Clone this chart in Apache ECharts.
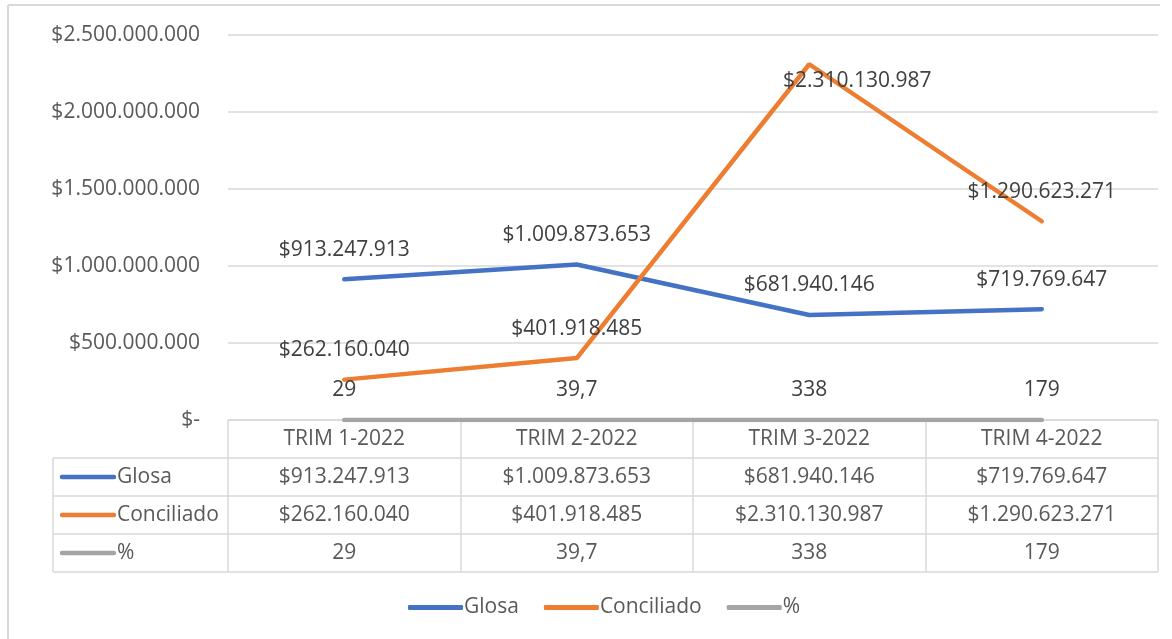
<!DOCTYPE html>
<html>
<head>
<meta charset="utf-8">
<script src="https://cdn.jsdelivr.net/npm/echarts@6/dist/echarts.min.js"></script>
<style>
  html, body { margin: 0; padding: 0; background: #fff; }
  #chart { width: 1172px; height: 639px; }
</style>
</head>
<body>
<div id="chart"></div>
<script>
// datos de la tabla
var trimestres = ['TRIM 1-2022', 'TRIM 2-2022', 'TRIM 3-2022', 'TRIM 4-2022'];
var glosa = [913247913, 1009873653, 681940146, 719769647];
var conciliado = [262160040, 401918485, 2310130987, 1290623271];
var porcentaje = [29, 39.7, 338, 179];
var yTicks = { min: 0, max: 2500000000, interval: 500000000 };

var FONT = 'Open Sans';
var FS = 21;
var GRID = { left: 228, right: 14, top: 35, bottom: 219 };

function pesos(v) {
  if (v === 0) return '$-';
  return '$' + String(Math.round(v)).replace(/\B(?=(\d{3})+(?!\d))/g, '.');
}
function pct(v) {
  return String(v).replace('.', ',');
}

(function () {
  var myChart = echarts.init(document.getElementById('chart'));

  var rows = [
    { name: 'Glosa', color: '#4472C4', data: glosa, fmt: pesos },
    { name: 'Conciliado', color: '#ED7D31', data: conciliado, fmt: pesos },
    { name: '%', color: '#A5A5A5', data: porcentaje, fmt: pct }
  ];

  // ejes x: cabecera + una fila de tabla por serie
  var xAxes = [{
    type: 'category',
    data: trimestres,
    boundaryGap: true,
    axisLine: { show: true, lineStyle: { color: '#d9d9d9', width: 1 } },
    axisTick: { show: false },
    axisLabel: { color: '#595959', fontFamily: FONT, fontSize: FS, margin: 9 }
  }];
  rows.forEach(function (r, k) {
    xAxes.push({
      type: 'category',
      data: trimestres,
      position: 'bottom',
      offset: 38 * (k + 1),
      axisLine: { show: false },
      axisTick: { show: false },
      axisLabel: {
        color: '#595959', fontFamily: FONT, fontSize: FS, margin: 9,
        formatter: function (val, idx) { return r.fmt(r.data[idx]); }
      }
    });
  });

  var series = rows.map(function (r) {
    return {
      name: r.name,
      type: 'line',
      xAxisIndex: 0,
      showSymbol: true,
      symbol: 'circle',
      symbolSize: 0,
      lineStyle: { color: r.color, width: 4.5, cap: 'round' },
      itemStyle: { color: r.color },
      label: {
        show: true, position: 'top', distance: 19,
        color: '#404040', fontFamily: FONT, fontSize: FS,
        formatter: function (p) { return r.fmt(p.value); }
      },
      data: r.data.map(function (v, i) {
        // etiqueta del pico movida a mano como en el original
        if (r.name === 'Conciliado' && i === 2) {
          return { value: v, label: { offset: [48, 46] } };
        }
        return v;
      }),
      z: r.name === '%' ? 3 : 2
    };
  });

  // tabla: bordes y claves de leyenda
  var L = GRID.left, R = 1172 - GRID.right, top = 639 - GRID.bottom;
  var rowH = 38, tableLeft = 53;
  var colW = (R - L) / trimestres.length;
  var g = [];
  var lineStyle = { stroke: '#d9d9d9', lineWidth: 1.5 };
  for (var c = 0; c <= trimestres.length; c++) {
    var x = Math.round(L + c * colW);
    g.push({ type: 'line', shape: { x1: x, y1: top, x2: x, y2: top + rowH * 4 }, style: lineStyle, silent: true });
  }
  g.push({ type: 'line', shape: { x1: tableLeft, y1: top + rowH, x2: tableLeft, y2: top + rowH * 4 }, style: lineStyle });
  for (var h = 1; h <= 4; h++) {
    g.push({ type: 'line', shape: { x1: tableLeft, y1: top + rowH * h, x2: R, y2: top + rowH * h }, style: lineStyle });
  }
  g.push({ type: 'line', shape: { x1: L, y1: top, x2: R, y2: top }, style: lineStyle });
  rows.forEach(function (r, k) {
    var cy = top + rowH * (k + 1) + rowH / 2;
    g.push({ type: 'line', shape: { x1: 62, y1: cy, x2: 114, y2: cy },
      style: { stroke: r.color, lineWidth: 4.5, lineCap: 'round' } });
    g.push({ type: 'text', x: 117, y: cy, style: {
      text: r.name, fill: '#595959', font: FS + 'px "' + FONT + '"', verticalAlign: 'middle' } });
  });
  // marco del gráfico
  g.push({ type: 'line', shape: { x1: 8, y1: 5, x2: 1160, y2: 5 }, style: { stroke: '#d9d9d9', lineWidth: 2 } });
  g.push({ type: 'line', shape: { x1: 8, y1: 5, x2: 8, y2: 639 }, style: { stroke: '#d9d9d9', lineWidth: 2 } });

  var option = {
    animation: false,
    backgroundColor: '#fff',
    grid: GRID,
    legend: {
      bottom: 16,
      left: 403,
      icon: 'roundRect',
      itemWidth: 55,
      itemHeight: 5,
      itemGap: 25,
      data: rows.map(function (r) { return r.name; }),
      textStyle: { color: '#595959', fontFamily: FONT, fontSize: FS, padding: [0, 0, 0, -4] }
    },
    xAxis: xAxes,
    yAxis: {
      type: 'value',
      min: yTicks.min, max: yTicks.max, interval: yTicks.interval,
      axisLine: { show: false },
      axisTick: { show: false },
      splitLine: { lineStyle: { color: '#d9d9d9', width: 1.5 } },
      axisLabel: { color: '#595959', fontFamily: FONT, fontSize: FS, margin: 28, formatter: pesos }
    },
    graphic: g,
    series: series
  };

  myChart.setOption(option);
  window.addEventListener('resize', function () { myChart.resize(); });
})();
</script>
</body>
</html>
